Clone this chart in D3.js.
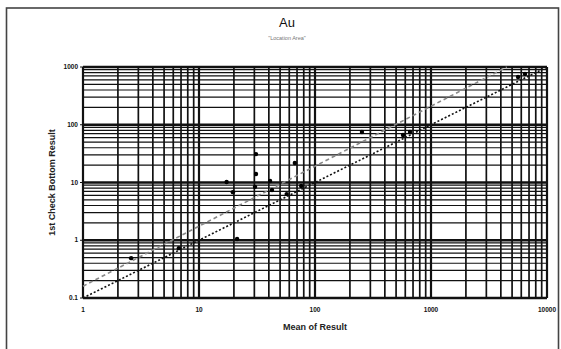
<!DOCTYPE html>
<meta charset="utf-8">
<style>
    body { margin: 0; background: #fff; font-family: "Liberation Sans", Arial, sans-serif; }
    .grid line { stroke: #111; }
    .tick-label { font-size: 6.5px; font-weight: bold; fill: #111; }
    .axis-title { font-size: 9px; font-weight: bold; fill: #222; }
</style>
<body>
<script src="https://cdn.jsdelivr.net/npm/d3@7"></script>
<script>

    var width = 561,
        height = 349;

    // points (Mean of Result, check result)
    var meanResult = [2.6, 6.7, 17.3, 19.6, 21.3, 30.4, 31, 31, 41, 42.6, 57, 67, 76, 254, 574, 659, 5630, 6460];
    var checkResult = [0.49, 0.73, 10.2, 6.8, 1.05, 8.4, 31, 14, 10.6, 7.4, 6.3, 21.8, 8.7, 75, 66.5, 75, 671, 757];

    // reference lines, given by end points
    var lowerLineX = [1, 10000];
    var lowerLineY = [0.1, 1000];
    var upperLineX = [1, 4500];
    var upperLineY = [0.16, 1000];

    var xTicks = [1, 10, 100, 1000, 10000];
    var xTickLabels = ["1", "10", "100", "1000", "10000"];
    var yTicks = [0.1, 1, 10, 100, 1000];
    var yTickLabels = ["0.1", "1", "10", "100", "1000"];

    var margin = { left: 83, right: 14, top: 67, bottom: 51 };

    var x = d3.scaleLog()
        .domain([1, 10000])
        .range([margin.left, width - margin.right]);

    var y = d3.scaleLog()
        .domain([0.1, 1000])
        .range([height - margin.bottom, margin.top]);

    var svg = d3.select("body").append("svg")
        .attr("width", width)
        .attr("height", height);

    // outer frame
    svg.append("rect")
        .attr("x", 6.5).attr("y", 8)
        .attr("width", 552).attr("height", 360)
        .style("fill", "none")
        .style("stroke", "#444")
        .style("stroke-width", 1.6);

    svg.append("text")
        .attr("x", 287).attr("y", 27)
        .attr("text-anchor", "middle")
        .style("font-size", "13px")
        .style("fill", "#111")
        .text("Au");

    svg.append("text")
        .attr("x", 287).attr("y", 40)
        .attr("text-anchor", "middle")
        .style("font-size", "5.5px")
        .style("fill", "#777")
        .text("\"Location Area\"");

    // minor + major grid lines: 1..9 in every decade
    function logGrid(lo, hi) {
        var v = [];
        for (var e = Math.log10(lo); e < Math.log10(hi); e++) {
            for (var m = 1; m < 10; m++) v.push(m * Math.pow(10, e));
        }
        v.push(hi);
        return v;
    }

    var grid = svg.append("g").attr("class", "grid");

    grid.selectAll("line.h")
        .data(logGrid(0.1, 1000))
        .enter().append("line")
        .attr("class", "h")
        .attr("x1", x(1)).attr("x2", x(10000))
        .attr("y1", function (d) { return y(d); })
        .attr("y2", function (d) { return y(d); })
        .style("stroke-width", function (d) { return yTicks.indexOf(+d.toPrecision(3)) >= 0 ? 2.4 : 1.2; });

    grid.selectAll("line.v")
        .data(logGrid(1, 10000))
        .enter().append("line")
        .attr("class", "v")
        .attr("y1", y(0.1)).attr("y2", y(1000))
        .attr("x1", function (d) { return x(d); })
        .attr("x2", function (d) { return x(d); })
        .style("stroke-width", function (d) { return xTicks.indexOf(+d.toPrecision(3)) >= 0 ? 2.2 : 1.7; });

    // tick labels
    svg.selectAll("text.xt")
        .data(xTicks)
        .enter().append("text")
        .attr("class", "tick-label")
        .attr("x", function (d) { return x(d); })
        .attr("y", y(0.1) + 14)
        .attr("text-anchor", "middle")
        .text(function (d, i) { return xTickLabels[i]; });

    svg.selectAll("text.yt")
        .data(yTicks)
        .enter().append("text")
        .attr("class", "tick-label")
        .attr("x", x(1) - 5)
        .attr("y", function (d) { return y(d) + 2; })
        .attr("text-anchor", "end")
        .text(function (d, i) { return yTickLabels[i]; });

    svg.selectAll("line.ytick")
        .data(yTicks)
        .enter().append("line")
        .attr("x1", x(1) - 3).attr("x2", x(1))
        .attr("y1", function (d) { return y(d); })
        .attr("y2", function (d) { return y(d); })
        .style("stroke", "#111");

    // axis titles
    svg.append("text")
        .attr("class", "axis-title")
        .attr("x", (x(1) + x(10000)) / 2)
        .attr("y", 330)
        .attr("text-anchor", "middle")
        .text("Mean of Result");

    svg.append("text")
        .attr("class", "axis-title")
        .attr("transform", "translate(55," + ((y(0.1) + y(1000)) / 2) + ") rotate(-90)")
        .attr("text-anchor", "middle")
        .text("1st Check Bottom Result");

    // reference lines
    var line = d3.line()
        .x(function (d) { return x(d[0]); })
        .y(function (d) { return y(d[1]); });

    svg.append("path")
        .datum(d3.zip(upperLineX, upperLineY))
        .attr("d", line)
        .style("fill", "none")
        .style("stroke", "#888")
        .style("stroke-width", 1.6)
        .style("stroke-dasharray", "4,3");

    svg.append("path")
        .datum(d3.zip(lowerLineX, lowerLineY))
        .attr("d", line)
        .style("fill", "none")
        .style("stroke", "#111")
        .style("stroke-width", 1.6)
        .style("stroke-dasharray", "2,2");

    // points
    svg.selectAll("circle.pt")
        .data(d3.zip(meanResult, checkResult))
        .enter().append("circle")
        .attr("class", "pt")
        .attr("cx", function (d) { return x(d[0]); })
        .attr("cy", function (d) { return y(d[1]); })
        .attr("r", 2.2)
        .style("fill", "#000");

</script>
</body>
